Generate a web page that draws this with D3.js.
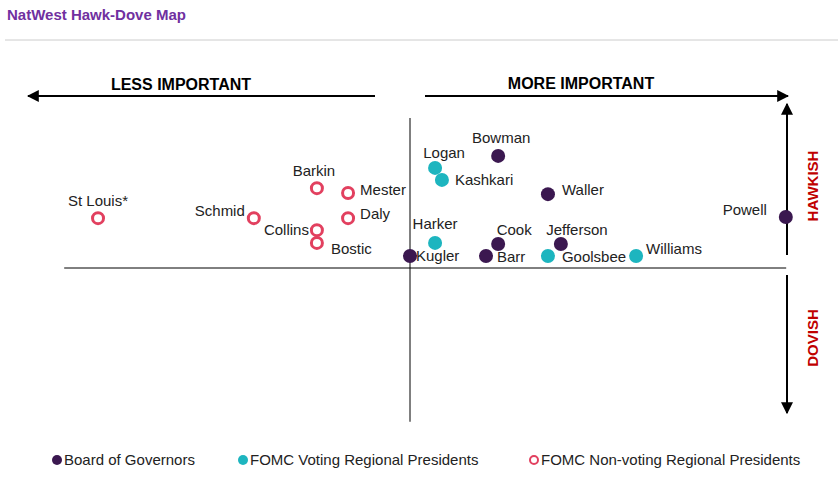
<!DOCTYPE html><html><head><meta charset="utf-8">
<script src="https://cdn.jsdelivr.net/npm/d3@7"></script>
<style>body{margin:0;background:#fff;font-family:Arial,"Liberation Sans",sans-serif}</style></head><body>
<svg id="c" width="838" height="483"></svg>
<script>
const names = ["Bowman","Logan","Kashkari","Waller","Powell","Harker","Cook","Jefferson","Williams","Goolsbee","Barr","Kugler","St Louis*","Schmid","Barkin","Mester","Daly","Collins","Bostic"];
const importance = [2.32,0.66,0.84,3.63,9.89,0.66,2.32,3.97,5.95,3.63,2.0,0,-8.21,-4.11,-2.45,-1.63,-1.63,-2.45,-2.45];
const hawkishness = [2.99,2.67,2.35,1.97,1.36,0.67,0.64,0.64,0.32,0.32,0.32,0.32,1.33,1.33,2.13,2.0,1.33,1.01,0.67];
const groups = ["gov","vote","vote","gov","gov","vote","gov","gov","vote","vote","gov","gov","non","non","non","non","non","non","non"];
const legendLabels = ["Board of Governors","FOMC Voting Regional Presidents","FOMC Non-voting Regional Presidents"];
const labelSide = {"Bowman":[3,-18,"middle"],"Logan":[9,-15,"middle"],"Kashkari":[13,0,"start"],"Waller":[14,-4,"start"],"Powell":[-19,-7,"end"],"Harker":[0,-19,"middle"],"Cook":[16,-14,"middle"],"Jefferson":[16,-14,"middle"],"Williams":[10,-7,"start"],"Goolsbee":[14,1,"start"],"Barr":[11,1,"start"],"Kugler":[6,0,"start"],"St Louis*":[0,-17,"middle"],"Schmid":[-9,-7,"end"],"Barkin":[-3,-17,"middle"],"Mester":[12,-3,"start"],"Daly":[12,-4,"start"],"Collins":[-8,0,"end"],"Bostic":[14,6,"start"]};
const col = {gov:"#3b1850",vote:"#1db5bf",non:"#e2405f"};
const svg = d3.select("#c");
svg.append("text").attr("x",7).attr("y",20).text("NatWest Hawk-Dove Map").attr("fill","#7030a0").attr("font-weight","bold").attr("font-size",15);
svg.append("line").attr("x1",5).attr("x2",838).attr("y1",40).attr("y2",40).attr("stroke","#ccc");
const x = d3.scaleLinear().domain([-10,10]).range([30,790]);
const y = d3.scaleLinear().domain([-4,4]).range([418,118]);
const defs = svg.append("defs");
defs.append("marker").attr("id","ah").attr("viewBox","0 0 10 10").attr("refX",9).attr("refY",5).attr("markerWidth",6).attr("markerHeight",6).attr("orient","auto")
 .append("path").attr("d","M0,0L10,5L0,10z").attr("fill","#000");
svg.append("line").attr("x1",x(0)).attr("x2",x(0)).attr("y1",y(4)).attr("y2",y(-4.1)).attr("stroke","#000");
svg.append("line").attr("x1",x(-9.1)).attr("x2",x(9.9)).attr("y1",y(0)).attr("y2",y(0)).attr("stroke","#000");
const ar=(x1,y1,x2,y2)=>svg.append("line").attr("x1",x1).attr("y1",y1).attr("x2",x2).attr("y2",y2).attr("stroke","#000").attr("stroke-width",2).attr("marker-end","url(#ah)");
ar(375,96,28,96); ar(425,96,788,96); ar(787,255,787,104); ar(787,275,787,413);
svg.append("text").attr("x",181).attr("y",90).attr("text-anchor","middle").attr("font-weight","bold").attr("font-size",16).text("LESS IMPORTANT");
svg.append("text").attr("x",581).attr("y",89).attr("text-anchor","middle").attr("font-weight","bold").attr("font-size",16).text("MORE IMPORTANT");
[["HAWKISH",186],["DOVISH",338]].forEach(([t,cy])=>svg.append("text").attr("transform",`translate(818,${cy}) rotate(-90)`).attr("text-anchor","middle").attr("fill","#c00000").attr("font-weight","bold").attr("font-size",15).text(t));
const pts = names.map((n,i)=>({n,x:importance[i],y:hawkishness[i],g:groups[i]}));
const g = svg.append("g");
g.selectAll("circle").data(pts).join("circle").attr("cx",d=>x(d.x)).attr("cy",d=>y(d.y)).attr("r",d=>d.g==="non"?5.5:7)
 .attr("fill",d=>d.g==="non"?"#fff":col[d.g]).attr("stroke",d=>col[d.g]).attr("stroke-width",d=>d.g==="non"?3:0);
g.selectAll("text").data(pts).join("text").attr("x",d=>x(d.x)+labelSide[d.n][0]).attr("y",d=>y(d.y)+labelSide[d.n][1]+5)
 .attr("text-anchor",d=>labelSide[d.n][2]).attr("font-size",15).attr("fill","#222").text(d=>d.n);
const lx=[50,236,527], kk=["gov","vote","non"];
legendLabels.forEach((t,i)=>{
 svg.append("circle").attr("cx",lx[i]+7).attr("cy",460).attr("r",kk[i]==="non"?4:5).attr("fill",kk[i]==="non"?"#fff":col[kk[i]]).attr("stroke",col[kk[i]]).attr("stroke-width",kk[i]==="non"?2:0);
 svg.append("text").attr("x",lx[i]+14).attr("y",465).attr("font-size",15).attr("fill","#222").text(t);
});
</script></body></html>
